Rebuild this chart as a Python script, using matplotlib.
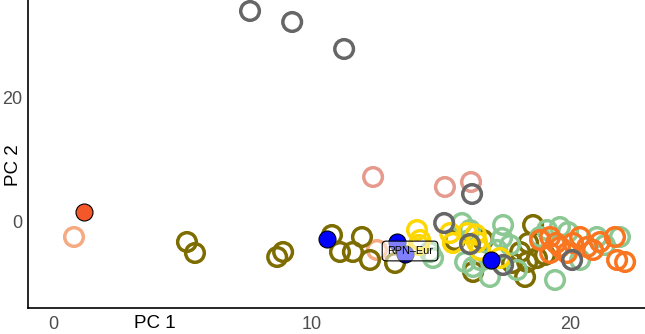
import matplotlib
matplotlib.use("Agg")
import matplotlib.pyplot as plt

plt.rcParams['font.family'] = ['Liberation Sans', 'DejaVu Sans']

# ---- data (PC1, PC2) per group ----
gray_x = [7.62, 9.25, 11.26, 16.21, 15.13, 16.13, 17.41, 20.08]
gray_y = [33.76, 32.0, 27.68, 4.48, -0.16, -3.52, -6.88, -6.08]

salmon_x = [12.38, 15.16, 16.17]
salmon_y = [7.2, 5.6, 6.4]

lightorange_x = [0.81, 12.53]
lightorange_y = [-2.4, -4.48]

olive_x = [5.18, 5.49, 8.67, 8.9, 10.79, 11.1, 11.6, 11.95, 12.26, 13.23,
           16.63, 15.55, 18.57, 18.38, 18.07, 18.34, 18.72, 17.76, 16.25, 18.26, 19.03]
olive_y = [-3.2, -4.96, -5.6, -4.8, -2.08, -4.8, -4.8, -2.4, -6.08, -6.56,
           -2.88, -2.88, -0.48, -3.36, -4.8, -6.4, -5.76, -6.56, -8.0, -8.8, -5.28]

green_x = [14.58, 14.7, 15.82, 17.41, 17.37, 16.52, 16.25, 16.9, 17.95, 19.42, 21.93,
           21.04, 19.61, 18.84, 19.11, 20.39, 16.13, 17.18, 15.94, 17.68, 21.35, 19.92]
green_y = [-4.8, -5.76, -0.16, -0.48, -2.56, -6.08, -7.2, -8.8, -7.68, -9.28, -2.4,
           -2.4, -0.8, -2.4, -1.28, -6.08, -1.28, -4.48, -6.4, -3.68, -3.68, -1.6]

yellow_x = [14.08, 14.2, 15.36, 15.47, 16.02, 16.4, 16.52, 17.29, 14.15, 16.35]
yellow_y = [-1.28, -2.88, -1.76, -3.36, -1.76, -3.2, -4.48, -5.76, -3.68, -2.0]

orange_x = [18.84, 19.23, 19.61, 20.12, 20.66, 20.89, 20.39, 21.74, 22.13, 21.82,
            19.23, 19.88, 21.16, 19.46]
orange_y = [-2.88, -2.4, -4.0, -3.36, -4.0, -4.48, -2.4, -2.4, -6.4, -6.08,
            -4.96, -4.96, -3.2, -3.36]

blue_x = [10.6, 13.31, 13.62, 16.94]
blue_y = [-2.72, -3.2, -5.12, -6.08]

red_x = [1.2]
red_y = [1.6]

label_text = "RPN\u2013Eur"
label_x, label_y = 13.81, -4.64

xticks = [0, 10, 20]
yticks = [0, 20]

# ---- figure ----
fig = plt.figure(figsize=(6.45, 3.34), dpi=100)
ax = fig.add_axes([28/645, 26/334, 1 - 28/645, 1 - 26/334])

S = 180
LW = 2.5
hollow = [
    (salmon_x, salmon_y, '#E69A8D'),
    (lightorange_x, lightorange_y, '#F5AA82'),
    (olive_x, olive_y, '#7D6D00'),
    (green_x, green_y, '#8CC894'),
    (yellow_x, yellow_y, '#FFD700'),
    (orange_x, orange_y, '#FA7520'),
    (gray_x, gray_y, '#666666'),
]
for xs, ys, c in hollow:
    ax.scatter(xs, ys, s=S, facecolors='none', edgecolors=c, linewidths=LW, zorder=2)

ax.scatter(blue_x, blue_y, s=150, c='#0000FF', edgecolors='black', linewidths=0.8, zorder=3)
ax.scatter(red_x, red_y, s=150, c='#F4572A', edgecolors='black', linewidths=0.8, zorder=3)

ax.text(label_x, label_y, label_text, fontsize=7.8, ha='center', va='center', zorder=4,
        bbox=dict(boxstyle='round,pad=0.45,rounding_size=0.35', fc=(1, 1, 1, 0.5),
                  ec='black', lw=0.8))

ax.set_xlim(-0.97, 22.9)
ax.set_ylim(-13.76, 35.52)
ax.set_xticks(xticks)
ax.set_yticks(yticks)
ax.tick_params(length=0, labelsize=13, labelcolor='#4D4D4D')
ax.tick_params(axis='y', pad=4)
ax.tick_params(axis='x', pad=6)
for s in ['top', 'right']:
    ax.spines[s].set_visible(False)
for s in ['left', 'bottom']:
    ax.spines[s].set_linewidth(1.2)
    ax.spines[s].set_color('black')

fig.text(155/645, 1 - 323/334, 'PC 1', fontsize=13.5, ha='center', va='center')
fig.text(13/645, 1 - 165/334, 'PC 2', fontsize=13.5, ha='center', va='center', rotation=90)

fig.savefig('out.png', dpi=100)
